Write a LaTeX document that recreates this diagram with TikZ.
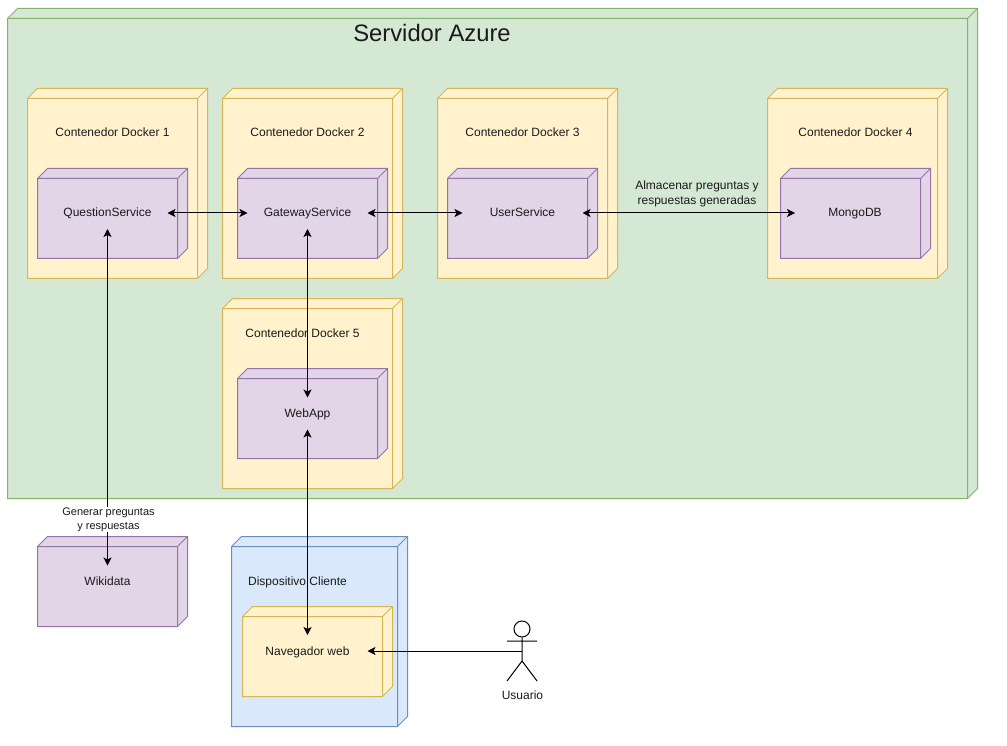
\documentclass[tikz,border=0pt]{standalone}
\usepackage{fontspec}
\setmainfont{Liberation Sans}
\usetikzlibrary{arrows.meta}
\definecolor{grF}{HTML}{D5E8D4}\definecolor{grD}{HTML}{82B366}
\definecolor{yeF}{HTML}{FFF2CC}\definecolor{yeD}{HTML}{D6B656}
\definecolor{puF}{HTML}{E1D5E7}\definecolor{puD}{HTML}{9673A6}
\definecolor{blF}{HTML}{DAE8FC}\definecolor{blD}{HTML}{6C8EBF}
\definecolor{txt}{HTML}{1A1A1A}
\tikzset{
  green cube/.style={fill=grF,draw=grD},
  yellow cube/.style={fill=yeF,draw=yeD},
  purple cube/.style={fill=puF,draw=puD},
  blue cube/.style={fill=blF,draw=blD},
  lbl/.style={inner sep=0pt,outer sep=0pt,align=center,text=txt,font=\fontsize{12}{14}\selectfont},
  one/.style={lbl,text height=10pt,text depth=2pt},
  port/.style={one,minimum width=120pt,minimum height=32pt},
  small/.style={lbl,font=\fontsize{11}{14}\selectfont},
  link/.style={draw=black,line width=1pt,{Stealth[length=8pt,width=8pt,inset=2pt]}-{Stealth[length=8pt,width=8pt,inset=2pt]}},
  onelink/.style={draw=black,line width=1pt,-{Stealth[length=8pt,width=8pt,inset=2pt]}},
}
% \cube{name}{front left}{front right}{front top}{front bottom}{style}
\newcommand{\cube}[6]{%
  \draw[#6,line width=1pt,line join=miter]
    (#2,#4) -- ++(10,-10) -- (#3+10,#4-10) -- (#3+10,#5-10) -- (#3,#5) -- (#2,#5) -- cycle;
  \draw[#6,line width=1pt,fill=none] (#2,#4) -- (#3,#4) -- (#3,#5) (#3,#4) -- ++(10,-10);
  \coordinate (#1) at ({(#2+#3)/2},{(#4+#5)/2});
}
\begin{document}
\begin{tikzpicture}[x=1pt,y=-1pt]
\useasboundingbox (0,0) rectangle (1007,746);
\fill[white] (0,0) rectangle (1007,746);

\cube{azure}{7.5}{967.5}{18.5}{498.5}{green cube}
\node[lbl,font=\fontsize{23.8}{28}\selectfont] (azuret) at (432,33) {Servidor Azure};

\cube{d1}{27.5}{197.5}{98.5}{278.5}{yellow cube}
\cube{d2}{222.5}{392.5}{98.5}{278.5}{yellow cube}
\cube{d3}{437.5}{607.5}{98.5}{278.5}{yellow cube}
\cube{d4}{767.5}{937.5}{98.5}{278.5}{yellow cube}
\cube{d5}{222.5}{392.5}{308.5}{488.5}{yellow cube}

\node[one] (d1t) at (112.5,133) {Contenedor Docker 1};
\node[one] (d2t) at (307.5,133) {Contenedor Docker 2};
\node[one] (d3t) at (522.5,133) {Contenedor Docker 3};
\node[one] (d4t) at (855.5,133) {Contenedor Docker 4};
\node[one] (d5t) at (302.5,333) {Contenedor Docker 5};

\cube{c1}{37.5}{177.5}{178.5}{258.5}{purple cube}
\cube{c2}{237.5}{377.5}{178.5}{258.5}{purple cube}
\cube{c3}{447.5}{587.5}{178.5}{258.5}{purple cube}
\cube{c4}{780.5}{920.5}{178.5}{258.5}{purple cube}
\cube{c5}{237.5}{377.5}{378.5}{458.5}{purple cube}

\cube{c6}{37.5}{177.5}{546.5}{626.5}{purple cube}
\cube{client}{231.5}{397.5}{546.5}{726.5}{blue cube}
\node[one] (clientt) at (297.5,581) {Dispositivo Cliente};
\cube{c7}{242.5}{382.5}{616.5}{696.5}{yellow cube}

\node[port] (qs) at (107.5,213) {QuestionService};
\node[port] (gw) at (307.5,213) {GatewayService};
\node[port] (us) at (522.5,213) {UserService};
\node[port] (mg) at (855,213) {MongoDB};
\node[port] (wa) at (307.5,413.5) {WebApp};
\node[port] (wk) at (107.5,581.5) {Wikidata};
\node[port] (nv) at (307.5,651) {Navegador web};

% actor
\node[circle,draw=black,line width=1pt,fill=white,minimum size=16pt,inner sep=0pt] (head) at (522,629) {};
\coordinate (actor) at (522,651);
\coordinate (hip) at (522,661);
\draw[black,line width=1pt] (head.south) -- (hip) (507,641) -- (537,641)
  (507,681) -- (hip) -- (537,681);
\node[one] (usuario) at (522.5,695) {Usuario};

\draw[link] (qs.east) -- (gw.west);
\draw[link] (gw.east) -- (us.west);
\draw[link] (us.east) -- (mg.west);
\draw[link] (qs.south) -- (wk.north);
\draw[link] (gw.south) -- (wa.north);
\draw[link] (wa.south) -- (nv.north);
\draw[onelink] (actor) -- (nv.east);

\node[small,fill=white,inner sep=1pt] (lgen) at (108.5,519.5) {Generar preguntas\\y respuestas};
\node[lbl,font=\fontsize{12}{15}\selectfont] (lalm) at (697,193.5) {Almacenar preguntas y\\respuestas generadas};
\end{tikzpicture}
\end{document}
